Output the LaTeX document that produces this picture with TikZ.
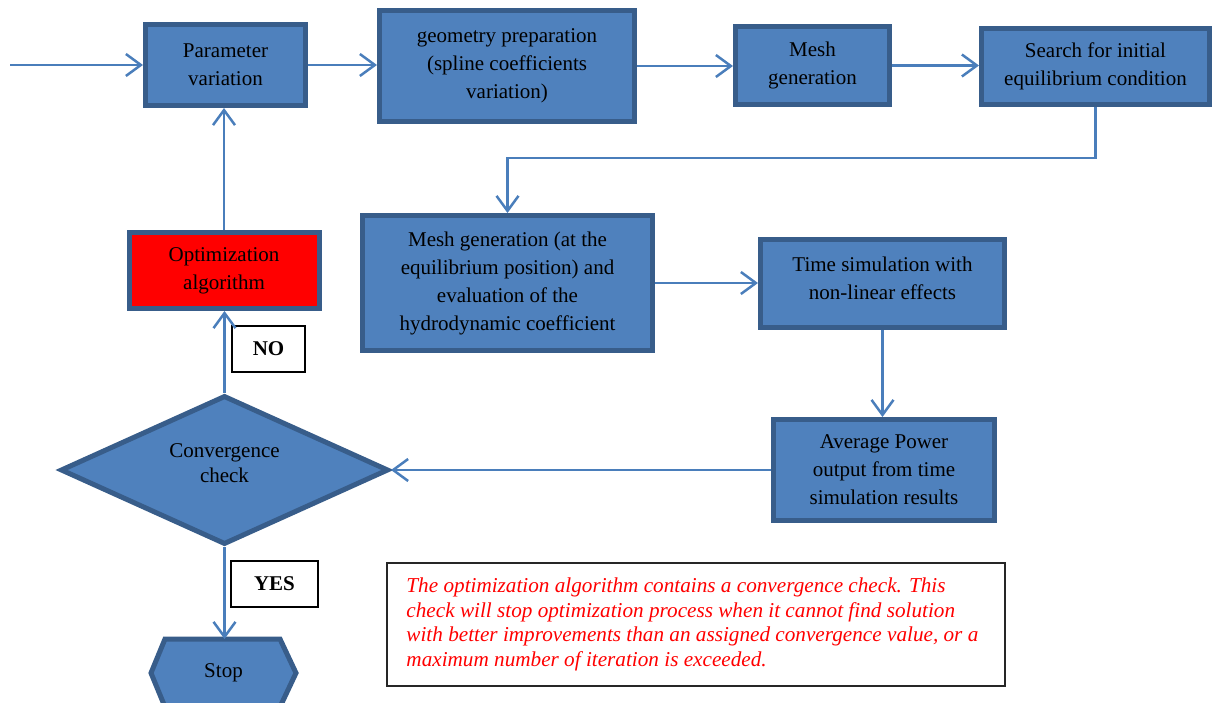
\documentclass[tikz,border=0pt]{standalone}
\usepackage{fontspec}
\setmainfont{Liberation Serif}
\usetikzlibrary{arrows.meta,shapes.geometric,calc}
\definecolor{fillblue}{HTML}{4F81BD}
\definecolor{edgeblue}{HTML}{385D8A}
\definecolor{lineblue}{HTML}{4A7EBB}
\definecolor{optred}{HTML}{FF0000}
\begin{document}
\begin{tikzpicture}[x=1pt,y=-1pt,
  box/.style={draw=edgeblue, fill=fillblue, line width=5pt, align=center,
    font=\fontsize{21}{28}\selectfont, inner sep=0pt},
  conn/.style={draw=lineblue, line width=2.5pt, -{Straight Barb[length=15pt,width=22pt]}},
  tag/.style={draw=black, line width=1.2pt, fill=white, inner sep=0pt,
    font=\fontsize{21}{28}\selectfont\bfseries},
  notebox/.style={draw=black!85, line width=1.5pt, inner sep=0pt},
  notetext/.style={inner sep=0pt, align=left, text=optred,
    font=\fontsize{21.2}{24.5}\selectfont\itshape}]
\useasboundingbox (0,0) rectangle (1213,703);

\node[box, minimum width=160pt, minimum height=81pt] (p) at (225.5,65) {Parameter\\variation};
\node[box, minimum width=255pt, minimum height=111pt] (g) at (507,66) {geometry preparation\\(spline coefficients\\variation)};
\node[box, minimum width=154pt, minimum height=78pt] (m) at (812.5,65.5) {Mesh\\generation};
\node[box, minimum width=228pt, minimum height=76pt] (s) at (1095.5,66.5) {Search for initial\\equilibrium condition};
\node[box, minimum width=290pt, minimum height=135pt] (me) at (507.5,283) {Mesh generation (at the\\equilibrium position) and\\evaluation of the\\hydrodynamic coefficient};
\node[box, minimum width=244pt, minimum height=88pt] (t) at (882.5,283.5) {Time simulation with\\non-linear effects\\[-18pt]\mbox{}};
\node[box, minimum width=221pt, minimum height=101pt] (avg) at (884,470) {Average Power\\output from time\\simulation results};
\node[box, fill=optred, minimum width=190pt, minimum height=76pt] (opt) at (224,270.5) {Optimization\\algorithm};
\node[box, diamond, minimum width=328pt, minimum height=149pt] (d) at (224.5,470) {};
\node[align=center, font=\fontsize{21}{25}\selectfont] (dt) at (224.5,463) {Convergence\\check};

\node[minimum width=145pt, minimum height=68pt, inner sep=0pt, outer sep=0pt] (stop) at (223.5,673) {};
\draw[draw=edgeblue, fill=fillblue, line width=5pt]
  (stop.west) -- ($(stop.north west)+(14,0)$) -- ($(stop.north east)+(-16,0)$) -- (stop.east)
  -- ($(stop.south east)+(-16,0)$) -- ($(stop.south west)+(14,0)$) -- cycle;
\node[font=\fontsize{21}{28}\selectfont] at (stop.center) {Stop};

\node[tag, minimum width=73pt, minimum height=46pt] (no) at (268.5,349) {NO};
\node[tag, minimum width=87pt, minimum height=46pt] (yes) at (274.5,584) {YES};

\node[notebox, minimum width=618pt, minimum height=123pt] (n) at (696,624.5) {};
\node[notetext, anchor=west] (nt) at ($(n.west)+(20,0)$) {The optimization algorithm contains a convergence check. This\\check will stop optimization process when it cannot find solution\\with better improvements than an assigned convergence value, or a\\maximum number of iteration is exceeded.};

\coordinate (in) at (10,65);
\draw[conn] (in) -- (p.west);
\draw[conn] (p.east) -- (p.east -| g.west);
\draw[conn] (g.east) -- (g.east -| m.west);
\draw[conn] (m.east) -- (m.east -| s.west);
\draw[conn] (s.south) -- (s.south |- 0,158) -| (me.north);
\draw[conn] (me.east) -- (me.east -| t.west);
\draw[conn] (t.south) -- (t.south |- avg.north);
\draw[conn] (avg.west) -- (d.east);
\draw[conn] (d.north) -- (d.north |- opt.south);
\draw[conn] (opt.north) -- (opt.north |- p.south);
\draw[conn] (d.south) -- (d.south |- stop.north);
\end{tikzpicture}
\end{document}
